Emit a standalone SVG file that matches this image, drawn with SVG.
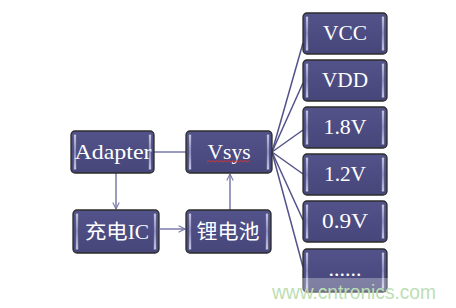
<svg xmlns="http://www.w3.org/2000/svg" width="456" height="308" viewBox="0 0 456 308">
<defs>
<linearGradient id="fill" x1="0" y1="0" x2="0" y2="1">
<stop offset="0" stop-color="#53538b"/>
<stop offset="1" stop-color="#46467a"/>
</linearGradient>
<linearGradient id="bar" x1="0" y1="0" x2="0" y2="1">
<stop offset="0" stop-color="#c4c4e6"/>
<stop offset="0.5" stop-color="#8c8cc0"/>
<stop offset="1" stop-color="#c4c4e6"/>
</linearGradient>
<marker id="arr" viewBox="0 0 10 10" refX="9" refY="5" markerWidth="8" markerHeight="8" orient="auto" markerUnits="userSpaceOnUse">
<path d="M1,1 L9,5 L1,9" fill="none" stroke="#7a7aaa" stroke-width="1.4"/>
</marker>
</defs>
<style>
.bx{fill:url(#fill);stroke:#2c2c2c;stroke-width:1.3}
.br{fill:url(#bar);stroke:#3a3a5a;stroke-width:0.5}
.t{font-family:"Liberation Serif","DejaVu Serif",serif;font-size:21px;fill:#ffffff;text-anchor:middle}
.c{font-family:"Liberation Serif","Noto Sans CJK SC",serif;font-size:20px;fill:#ffffff;text-anchor:middle}
.ln{stroke:#7a7aaa;stroke-width:1.5;fill:none}
.fan{stroke:#52528a;stroke-width:1.5;fill:none}
</style>
<rect width="456" height="308" fill="#ffffff"/>
<g id="connectors">
<line class="ln" x1="154" y1="152" x2="186" y2="152"/>
<line class="ln" x1="116" y1="173" x2="116" y2="209" marker-end="url(#arr)"/>
<line class="ln" x1="160" y1="229" x2="185" y2="229" marker-end="url(#arr)"/>
<line class="ln" x1="230" y1="210" x2="230" y2="174" marker-end="url(#arr)"/>
<line class="fan" x1="272" y1="152" x2="303" y2="43"/>
<line class="fan" x1="272" y1="152" x2="303" y2="83"/>
<line class="fan" x1="272" y1="152" x2="303" y2="130"/>
<line class="fan" x1="272" y1="152" x2="303" y2="174"/>
<line class="fan" x1="272" y1="152" x2="303" y2="220"/>
<line class="fan" x1="272" y1="152" x2="303" y2="267"/>
</g>
<g id="adapter">
<rect class="bx" x="71" y="131" width="83" height="42" rx="4"/>
<rect class="br" x="73.5" y="134" width="3" height="36" rx="1.5"/>
<rect class="br" x="148.5" y="134" width="3" height="36" rx="1.5"/>
<text class="t" x="113" y="159" textLength="77" lengthAdjust="spacingAndGlyphs">Adapter</text>
</g>
<g id="vsys">
<rect class="bx" x="186" y="131" width="86" height="42" rx="4"/>
<rect class="br" x="188.5" y="134" width="3" height="36" rx="1.5"/>
<rect class="br" x="266.5" y="134" width="3" height="36" rx="1.5"/>
<text class="t" x="229" y="159" textLength="43" lengthAdjust="spacingAndGlyphs">Vsys</text>
<path d="M207,162 l2,-1.5 l2,1.5 l2,-1.5 l2,1.5 l2,-1.5 l2,1.5 l2,-1.5 l2,1.5 l2,-1.5 l2,1.5 l2,-1.5 l2,1.5 l2,-1.5 l2,1.5 l2,-1.5 l2,1.5 l2,-1.5 l2,1.5 l2,-1.5 l2,1.5 l2,-1.5" fill="none" stroke="#e03030" stroke-width="0.9"/>
</g>
<g id="charger">
<rect class="bx" x="73" y="210" width="86" height="43" rx="4"/>
<rect class="br" x="75.5" y="213" width="3" height="37" rx="1.5"/>
<rect class="br" x="153.5" y="213" width="3" height="37" rx="1.5"/>
<text class="c" x="117" y="239" textLength="64" lengthAdjust="spacingAndGlyphs">充电IC</text>
</g>
<g id="battery">
<rect class="bx" x="186" y="210" width="85" height="43" rx="4"/>
<rect class="br" x="188.5" y="213" width="3" height="37" rx="1.5"/>
<rect class="br" x="265.5" y="213" width="3" height="37" rx="1.5"/>
<text class="c" x="228" y="239" textLength="63" lengthAdjust="spacingAndGlyphs">锂电池</text>
</g>
<g id="vcc">
<rect class="bx" x="303" y="13" width="84" height="41" rx="4"/>
<rect class="br" x="305.5" y="16" width="3" height="35" rx="1.5"/>
<rect class="br" x="381.5" y="16" width="3" height="35" rx="1.5"/>
<text class="t" x="345" y="40" textLength="44" lengthAdjust="spacingAndGlyphs">VCC</text>
</g>
<g id="vdd">
<rect class="bx" x="303" y="60" width="84" height="41" rx="4"/>
<rect class="br" x="305.5" y="63" width="3" height="35" rx="1.5"/>
<rect class="br" x="381.5" y="63" width="3" height="35" rx="1.5"/>
<text class="t" x="345" y="87" textLength="46" lengthAdjust="spacingAndGlyphs">VDD</text>
</g>
<g id="v18">
<rect class="bx" x="303" y="107" width="84" height="41" rx="4"/>
<rect class="br" x="305.5" y="110" width="3" height="35" rx="1.5"/>
<rect class="br" x="381.5" y="110" width="3" height="35" rx="1.5"/>
<text class="t" x="345" y="134" textLength="43" lengthAdjust="spacingAndGlyphs">1.8V</text>
</g>
<g id="v12">
<rect class="bx" x="303" y="154" width="84" height="41" rx="4"/>
<rect class="br" x="305.5" y="157" width="3" height="35" rx="1.5"/>
<rect class="br" x="381.5" y="157" width="3" height="35" rx="1.5"/>
<text class="t" x="345" y="181" textLength="42" lengthAdjust="spacingAndGlyphs">1.2V</text>
</g>
<g id="v09">
<rect class="bx" x="303" y="201" width="84" height="41" rx="4"/>
<rect class="br" x="305.5" y="204" width="3" height="35" rx="1.5"/>
<rect class="br" x="381.5" y="204" width="3" height="35" rx="1.5"/>
<text class="t" x="345" y="228" textLength="46" lengthAdjust="spacingAndGlyphs">0.9V</text>
</g>
<g id="more">
<rect class="bx" x="303" y="249" width="84" height="43" rx="4"/>
<rect class="br" x="305.5" y="252" width="3" height="37" rx="1.5"/>
<rect class="br" x="381.5" y="252" width="3" height="37" rx="1.5"/>
<text class="t" x="345" y="276" textLength="33" lengthAdjust="spacingAndGlyphs">......</text>
</g>
<rect x="270" y="278" width="168" height="16" fill="#ffffff" opacity="0.3"/>
<text x="272" y="299" font-family="Liberation Sans, Arial, sans-serif" font-size="20" fill="#bcdeb4" textLength="164" lengthAdjust="spacingAndGlyphs">www.cntronics.com</text>
</svg>
